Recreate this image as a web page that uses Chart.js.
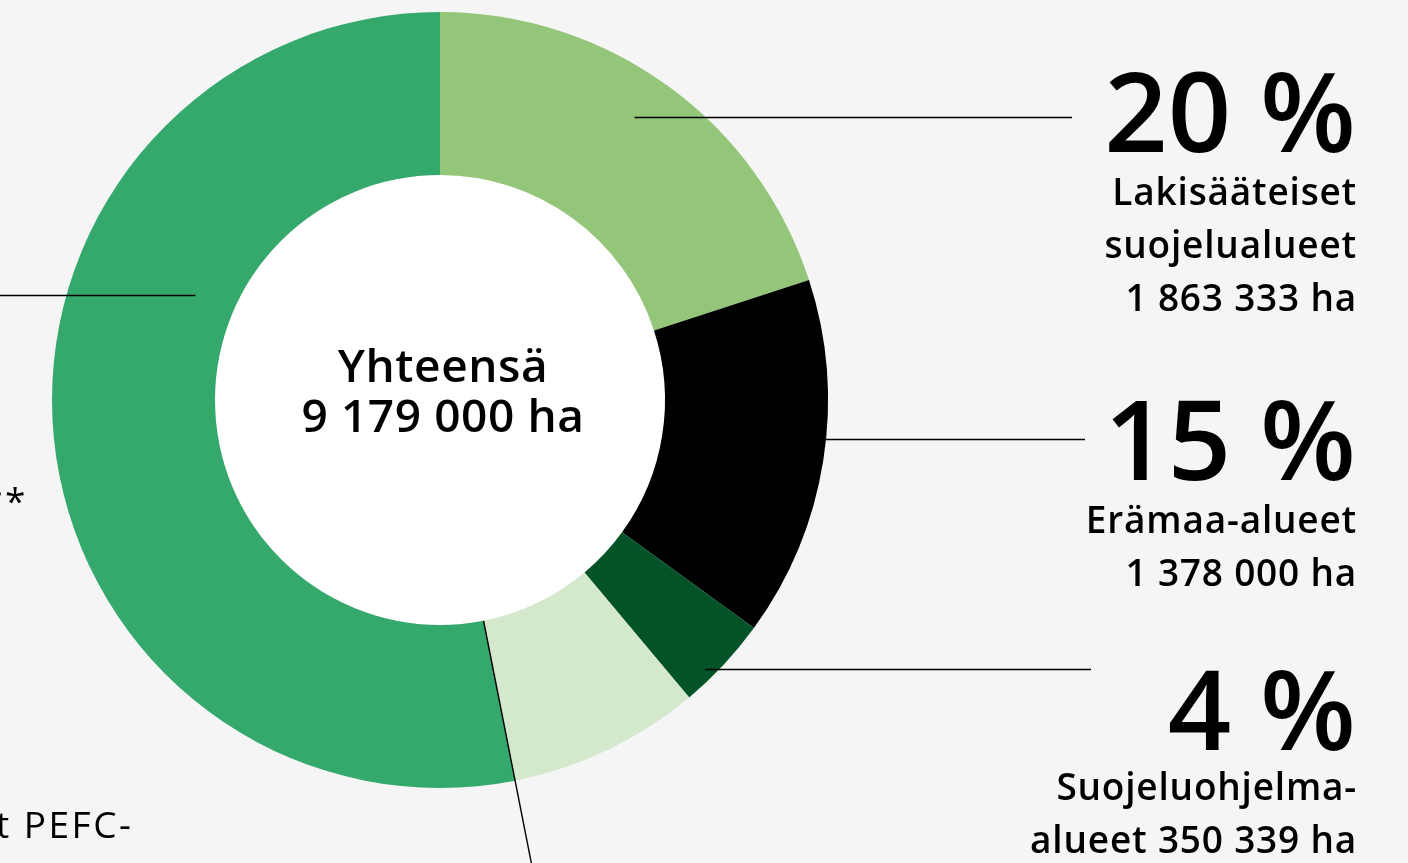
<!DOCTYPE html>
<html>
<head>
<meta charset="utf-8">
<script src="https://cdn.jsdelivr.net/npm/chart.js@4.4.1/dist/chart.umd.min.js"></script>
<style>
  html, body { margin: 0; padding: 0; background: #f5f5f5; overflow: hidden; }
  .chart-container { position: relative; width: 1408px; height: 863px; }
</style>
</head>
<body>
<div class="chart-container">
  <canvas id="myChart" width="1408" height="863"></canvas>
</div>
<script>
// slices, clockwise from 12 o'clock (shares, %)
const categories = ['Lakisääteiset suojelualueet', 'Erämaa-alueet', 'Suojeluohjelma-alueet', 'Muut alueet', 'Muut PEFC-alueet'];
const shares = [20.0, 15.0, 3.9, 8.0, 53.1];
const colors = ['#94c679', '#000000', '#035329', '#d4e8cb', '#35a96c'];

// right-hand callouts
const hectares = [1863333, 1378000, 350339];
const percents = [20, 15, 4];
const nameLines = [['Lakisääteiset', 'suojelualueet'], ['Erämaa-alueet'], ['Suojeluohjelma-', 'alueet']];
const totalHa = 9179000;

const FONT = '"Open Sans", "Noto Sans", sans-serif';
const fmt = n => String(n).replace(/\B(?=(\d{3})+(?!\d))/g, ' ');

// callout layout: y of leader, radius where it meets the ring, leader end x, baselines
const callouts = [
  { lineY: 117.5, rad: 343, endX: 1072, pctBase: 152, textBase: 205 },
  { lineY: 439.5, rad: 388, endX: 1085, pctBase: 480, textBase: 533 },
  { lineY: 669.5, rad: 378, endX: 1091, pctBase: 750, textBase: 800 },
];
const textRight = 1356;
const lineHeight = 53;

const innerFill = {
  id: 'innerFill',
  beforeDatasetsDraw(chart) {
    const arc = chart.getDatasetMeta(0).data[0];
    const ctx = chart.ctx;
    ctx.save();
    ctx.fillStyle = '#ffffff';
    ctx.beginPath();
    ctx.arc(arc.x, arc.y, arc.innerRadius, 0, Math.PI * 2);
    ctx.fill();
    ctx.restore();
  }
};

const callout = {
  id: 'callout',
  afterDatasetsDraw(chart) {
    const meta = chart.getDatasetMeta(0);
    const a0 = meta.data[0];
    const cx = a0.x, cy = a0.y;
    const ctx = chart.ctx;
    ctx.save();
    ctx.strokeStyle = '#000';
    ctx.lineWidth = 1.4;
    ctx.fillStyle = '#000';

    // right side leaders + texts
    callouts.forEach((c, i) => {
      const dy = c.lineY - cy;
      const sx = cx + Math.sqrt(c.rad * c.rad - dy * dy);
      ctx.beginPath();
      ctx.moveTo(sx, c.lineY);
      ctx.lineTo(c.endX, c.lineY);
      ctx.stroke();

      ctx.textAlign = 'right';
      ctx.textBaseline = 'alphabetic';
      ctx.letterSpacing = '0px';
      ctx.font = '600 111px ' + FONT;
      ctx.fillText(percents[i] + ' %', textRight, c.pctBase);

      const lines = nameLines[i].slice();
      const last = lines.length - 1;
      const ha = fmt(hectares[i]) + ' ha';
      if (lines.length === 1 || i === 0) lines.push(ha);
      else lines[last] = lines[last] + ' ' + ha;
      ctx.font = '600 37px ' + FONT;
      ctx.letterSpacing = '0.8px';
      lines.forEach((t, k) => ctx.fillText(t, textRight + 1, c.textBase + k * lineHeight));
    });

    // leader to the big slice on the left
    const leftY = 295.5, leftRad = 266;
    const ldy = leftY - cy;
    ctx.beginPath();
    ctx.moveTo(0, leftY);
    ctx.lineTo(cx - Math.sqrt(leftRad * leftRad - ldy * ldy), leftY);
    ctx.stroke();

    // radial leader along the edge between slices 3 and 4
    const edge = meta.data[3];
    const ang = edge.endAngle;
    ctx.beginPath();
    ctx.moveTo(cx + edge.innerRadius * Math.cos(ang), cy + edge.innerRadius * Math.sin(ang));
    ctx.lineTo(cx + 520 * Math.cos(ang), cy + 520 * Math.sin(ang));
    ctx.stroke();

    // cut-off texts on the left edge
    ctx.font = '400 37px ' + FONT;
    ctx.letterSpacing = '2.5px';
    ctx.textAlign = 'right';
    ctx.fillText('**', 28, 514);
    ctx.textAlign = 'left';
    ctx.fillText('t PEFC-', -4, 838);

    // centre total
    ctx.textAlign = 'center';
    ctx.letterSpacing = '0.6px';
    ctx.font = '600 46px ' + FONT;
    ctx.fillText('Yhteensä', cx + 3, 382);
    ctx.fillText(fmt(totalHa) + ' ha', cx + 3, 432);
    ctx.restore();
  }
};

const ctx = document.getElementById('myChart').getContext('2d');
new Chart(ctx, {
  type: 'doughnut',
  data: {
    labels: categories,
    datasets: [{
      data: shares,
      backgroundColor: colors,
      borderWidth: 0,
      hoverOffset: 0
    }]
  },
  options: {
    responsive: false,
    animation: false,
    cutout: 225,
    layout: { padding: { left: 52, top: 12, right: 580, bottom: 75 } },
    plugins: {
      legend: { display: false },
      tooltip: { enabled: false }
    },
    events: []
  },
  plugins: [innerFill, callout]
});
</script>
</body>
</html>
